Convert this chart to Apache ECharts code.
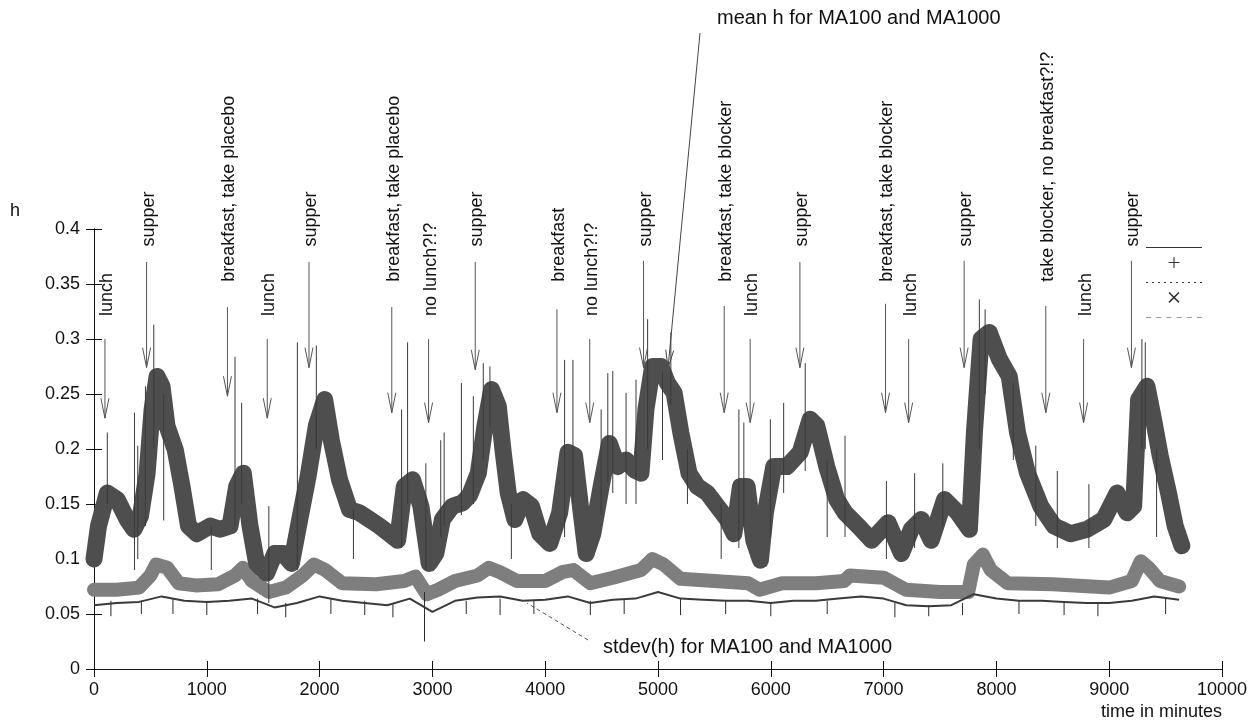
<!DOCTYPE html>
<html><head><meta charset="utf-8">
<script src="https://cdn.jsdelivr.net/npm/echarts@6/dist/echarts.min.js"></script>
<style>html,body{margin:0;padding:0;background:#fff}#c{width:1254px;height:723px}</style>
</head><body><div id="c"></div>
<script>
// ---- data ----
const xTickLabels = ['0','1000','2000','3000','4000','5000','6000','7000','8000','9000','10000'];
const yTickLabels = ['0','0.05','0.1','0.15','0.2','0.25','0.3','0.35','0.4'];

// mean h (smooth dark band)
const meanT = [0,40,118,206,294,353,412,471,515,559,603,647,721,780,838,912,1030,1118,1206,1265,1324,1383,1442,1530,1603,1677,1750,1824,1898,1971,2045,2104,2177,2265,2354,2442,2530,2618,2692,2751,2824,2898,2971,3030,3089,3177,3266,3330,3407,3466,3525,3584,3628,3672,3731,3804,3878,3952,4040,4128,4202,4260,4319,4363,4422,4496,4569,4643,4717,4790,4849,4893,4952,5025,5084,5143,5202,5275,5349,5437,5525,5614,5673,5731,5790,5849,5908,5952,6026,6143,6261,6349,6408,6496,6585,6658,6775,6893,7040,7158,7246,7334,7422,7540,7658,7761,7805,7864,7937,8025,8114,8187,8276,8393,8511,8658,8805,8952,9070,9158,9217,9261,9335,9393,9452,9526,9585,9644];
const meanV = [0.100,0.130,0.160,0.154,0.136,0.127,0.139,0.178,0.236,0.266,0.257,0.221,0.199,0.166,0.130,0.123,0.130,0.127,0.130,0.166,0.178,0.130,0.096,0.087,0.105,0.105,0.096,0.136,0.175,0.221,0.245,0.208,0.172,0.145,0.142,0.136,0.130,0.123,0.117,0.166,0.172,0.148,0.096,0.105,0.136,0.148,0.151,0.158,0.178,0.221,0.254,0.239,0.197,0.160,0.136,0.154,0.148,0.123,0.114,0.142,0.197,0.194,0.142,0.105,0.123,0.166,0.205,0.184,0.190,0.181,0.178,0.236,0.275,0.275,0.260,0.251,0.215,0.178,0.166,0.160,0.148,0.136,0.123,0.166,0.166,0.117,0.099,0.142,0.184,0.184,0.197,0.227,0.221,0.184,0.154,0.142,0.130,0.117,0.133,0.105,0.127,0.136,0.117,0.154,0.142,0.127,0.215,0.300,0.306,0.282,0.266,0.215,0.178,0.148,0.130,0.123,0.127,0.136,0.160,0.142,0.148,0.245,0.257,0.227,0.194,0.160,0.130,0.112];

// mean h noisy spikes: [time, low, high]
const meanSpikes = [[118,0.15,0.215],[359,0.09,0.233],[388,0.10,0.203],[456,0.13,0.257],[530,0.20,0.313],[618,0.135,0.25],[1040,0.09,0.13],[1250,0.13,0.284],[1309,0.15,0.242],[1550,0.06,0.148],[1803,0.09,0.297],[1971,0.20,0.294],[2300,0.10,0.145],[2727,0.11,0.236],[2780,0.15,0.297],[2942,0.09,0.187],[3074,0.12,0.208],[3104,0.13,0.215],[3257,0.14,0.26],[3363,0.15,0.248],[3451,0.19,0.278],[3510,0.22,0.275],[3700,0.10,0.15],[4172,0.12,0.281],[4246,0.15,0.281],[4496,0.14,0.236],[4555,0.17,0.269],[4599,0.16,0.271],[4717,0.15,0.251],[4805,0.15,0.263],[4908,0.20,0.318],[5040,0.19,0.27],[5114,0.24,0.306],[5261,0.15,0.20],[5560,0.10,0.15],[5717,0.11,0.236],[5761,0.13,0.224],[5996,0.12,0.227],[6114,0.16,0.242],[6305,0.18,0.278],[6500,0.12,0.19],[6658,0.12,0.212],[7025,0.10,0.171],[7275,0.11,0.178],[7525,0.13,0.187],[7849,0.20,0.336],[7900,0.25,0.327],[8150,0.19,0.26],[8349,0.13,0.203],[8540,0.11,0.18],[8820,0.11,0.168],[9290,0.20,0.30],[9320,0.20,0.297],[9420,0.12,0.20]];

// stdev(h) (light band)
const stdevT = [0,200,400,500,550,650,750,900,1100,1250,1320,1400,1550,1700,1850,1950,2050,2200,2500,2750,2850,2950,3050,3200,3400,3500,3600,3750,4000,4150,4250,4400,4600,4850,4950,5050,5200,5500,5800,5900,6100,6400,6650,6700,7000,7200,7500,7750,7800,7880,7950,8100,8500,9000,9200,9280,9350,9450,9620];
const stdevV = [0.072,0.072,0.074,0.085,0.095,0.092,0.078,0.076,0.077,0.085,0.092,0.080,0.070,0.074,0.085,0.095,0.090,0.078,0.077,0.080,0.084,0.068,0.072,0.080,0.085,0.092,0.088,0.080,0.080,0.088,0.090,0.078,0.083,0.090,0.100,0.095,0.082,0.080,0.078,0.072,0.078,0.078,0.080,0.085,0.083,0.072,0.070,0.070,0.095,0.104,0.090,0.078,0.077,0.074,0.080,0.098,0.092,0.080,0.075];

// stdev(h) (dark lower line)
const stdevLowT = [0,200,400,600,800,1000,1200,1400,1600,1800,2000,2200,2400,2600,2800,3000,3200,3400,3600,3800,4000,4200,4400,4600,4800,5000,5200,5400,5600,5800,6000,6200,6400,6600,6800,7000,7200,7400,7600,7800,8000,8200,8400,8600,8800,9000,9200,9400,9620];
const stdevLowV = [0.058,0.060,0.061,0.066,0.062,0.061,0.062,0.064,0.056,0.060,0.066,0.062,0.060,0.058,0.064,0.052,0.062,0.065,0.066,0.062,0.063,0.066,0.060,0.063,0.064,0.070,0.064,0.063,0.062,0.062,0.060,0.062,0.062,0.064,0.066,0.064,0.058,0.057,0.058,0.068,0.064,0.062,0.062,0.061,0.060,0.060,0.062,0.066,0.063];

// stdev spikes: [time, low, high]
const stdevSpikes = [[150,0.048,0.062],[420,0.05,0.062],[700,0.05,0.064],[1000,0.049,0.062],[1450,0.05,0.064],[1700,0.047,0.06],[2100,0.05,0.064],[2400,0.049,0.062],[2650,0.047,0.06],[2930,0.025,0.07],[3300,0.05,0.062],[3600,0.049,0.064],[3900,0.05,0.062],[4400,0.049,0.062],[4700,0.05,0.063],[5200,0.049,0.064],[5600,0.05,0.062],[6000,0.048,0.06],[6500,0.05,0.062],[7100,0.047,0.06],[7400,0.048,0.058],[7700,0.049,0.06],[8200,0.05,0.062],[8600,0.049,0.061],[8900,0.048,0.06],[9500,0.05,0.064]];

// events: time, label
const eventT = [97,466,1183,1536,1906,2640,2966,3380,4104,4395,4872,5587,5817,6258,7017,7222,7714,8438,8773,9197];
const eventLabels = ['lunch','supper','breakfast, take placebo','lunch','supper','breakfast, take placebo','no lunch?!?','supper','breakfast','no lunch?!?','supper','breakfast, take blocker','lunch','supper','breakfast, take blocker','lunch','supper','take blocker, no breakfast?!?','lunch','supper'];
const eventLabelY = [0.321,0.384,0.352,0.321,0.384,0.352,0.321,0.384,0.352,0.321,0.384,0.352,0.321,0.384,0.352,0.321,0.384,0.352,0.321,0.384];
const eventArrowTop = [0.30,0.37,0.329,0.30,0.37,0.329,0.30,0.37,0.327,0.30,0.371,0.33,0.30,0.37,0.332,0.30,0.371,0.33,0.30,0.371];
const eventArrowTip = [0.228,0.274,0.248,0.228,0.274,0.233,0.224,0.272,0.233,0.224,0.274,0.233,0.224,0.274,0.233,0.224,0.274,0.233,0.224,0.274];

// ---- chart ----
const FONT = '"Liberation Sans", Arial, sans-serif';
const chart = echarts.init(document.getElementById('c'), null, {renderer:'canvas'});

function renderSpike(params, api) {
  const t = api.value(0);
  const a = api.coord([t, api.value(1)]);
  const b = api.coord([t, api.value(2)]);
  return {type:'line', shape:{x1:a[0], y1:a[1], x2:b[0], y2:b[1]},
    style:{stroke: params.seriesName.indexOf('stdev') >= 0 ? '#2a2a2a' : '#3a3a3a', lineWidth:1}};
}
function renderEvent(params, api) {
  const i = params.dataIndex;
  const t = api.value(0);
  const pL = api.coord([t, api.value(1)]);
  const pTop = api.coord([t, api.value(2)]);
  const pTip = api.coord([t, api.value(3)]);
  const st = {stroke:'#555', lineWidth:1, fill:null};
  return {type:'group', children:[
    {type:'line', shape:{x1:pTop[0], y1:pTop[1], x2:pTip[0], y2:pTip[1]}, style:st},
    {type:'polyline', shape:{points:[[pTip[0]-4, pTip[1]-20],[pTip[0], pTip[1]],[pTip[0]+4, pTip[1]-20]]}, style:st},
    {type:'text', x:pL[0]+2, y:pL[1], rotation:Math.PI/2,
      style:{text:eventLabels[i], x:0, y:0, align:'left', verticalAlign:'middle', fontSize:18, fontFamily:FONT, fill:'#111'}}
  ]};
}

function arrowHead(x1,y1,x2,y2,len,half){
  const dx=x2-x1, dy=y2-y1, L=Math.hypot(dx,dy), ux=dx/L, uy=dy/L;
  const bx=x2-ux*len, by=y2-uy*len;
  return [[bx-uy*half, by+ux*half],[x2,y2],[bx+uy*half, by-ux*half]];
}

const dotted = (function(){let s='path://';for(let x=0;x<58;x+=6){s+='M'+x+',0h2v1h-2z';}return s;})();
const dashedLight = (function(){let s='path://';for(let x=0;x<58;x+=10){s+='M'+x+',0h5v1h-5z';}return s;})();

const axisLabelStyle = {fontSize:18, fontFamily:FONT, color:'#111'};
const option = {
  animation:false,
  backgroundColor:'#fff',
  grid:{left:94, right:32, top:229, bottom:54},
  xAxis:[
    {type:'value', min:0, max:10000, interval:1000, position:'bottom',
      axisLine:{show:true, lineStyle:{color:'#111', width:1}},
      axisTick:{show:true, inside:true, length:8, lineStyle:{color:'#111'}},
      axisLabel:{...axisLabelStyle, margin:12, formatter:(v)=>xTickLabels[Math.round(v/1000)]},
      splitLine:{show:false}},
    {type:'value', min:0, max:10000, interval:1000, position:'top',
      axisLine:{show:true, lineStyle:{color:'#111', width:1}},
      axisTick:{show:true, inside:true, length:8, lineStyle:{color:'#111'}},
      axisLabel:{show:false}, splitLine:{show:false}}
  ],
  yAxis:[
    {type:'value', min:0, max:0.4, interval:0.05, position:'left',
      axisLine:{show:true, lineStyle:{color:'#111', width:1}},
      axisTick:{show:true, inside:true, length:8, lineStyle:{color:'#111'}},
      axisLabel:{...axisLabelStyle, margin:14, formatter:(v)=>yTickLabels[Math.round(v/0.05)]},
      splitLine:{show:false}},
    {type:'value', min:0, max:0.4, interval:0.05, position:'right',
      axisLine:{show:true, lineStyle:{color:'#111', width:1}},
      axisTick:{show:true, inside:true, length:8, lineStyle:{color:'#111'}},
      axisLabel:{show:false}, splitLine:{show:false}}
  ],
  legend:{
    orient:'vertical', left:1141, top:237, itemWidth:56, itemHeight:11, itemGap:9,
    selectedMode:false, formatter:()=>'', textStyle:{fontSize:1},
    data:[
      {name:'mean h, MA100', icon:'path://M0,0H60V1H0Z', itemStyle:{color:'#333'}},
      {name:'mean h, MA1000', icon:'path://M4.5,0h1v10h-1zM0,4.5h10v1h-10z', itemStyle:{color:'#333'}},
      {name:'stdev(h), MA100', icon:dotted, itemStyle:{color:'#333'}},
      {name:'stdev(h), MA1000', icon:'path://M0,1L1,0L10,9L9,10ZM9,0L10,1L1,10L0,9Z', itemStyle:{color:'#333'}},
      {name:'events', icon:dashedLight, itemStyle:{color:'#999'}}
    ]
  },
  series:[
    {name:'stdev(h), MA1000', type:'line', symbol:'none', z:2,
      data: stdevT.map((t,i)=>[t, stdevV[i]]),
      lineStyle:{width:14, color:'#7e7e7e', join:'round', cap:'round'}},
    {name:'stdev(h), MA100', type:'line', symbol:'none', z:3,
      data: stdevLowT.map((t,i)=>[t, stdevLowV[i]]),
      lineStyle:{width:2, color:'#3a3a3a', join:'round'}},
    {name:'stdev spikes', type:'custom', z:3, renderItem:renderSpike,
      encode:{x:0, y:[1,2]}, data: stdevSpikes},
    {name:'mean h, MA1000', type:'line', symbol:'none', z:4,
      data: meanT.map((t,i)=>[t, meanV[i]]),
      lineStyle:{width:17, color:'#4e4e4e', join:'round', cap:'round'}},
    {name:'mean h, MA100', type:'custom', z:5, renderItem:renderSpike,
      encode:{x:0, y:[1,2]}, data: meanSpikes},
    {name:'events', type:'custom', z:6, clip:false, renderItem:renderEvent,
      encode:{x:0, y:[1,2,3]},
      data: eventT.map((t,i)=>[t, eventLabelY[i], eventArrowTop[i], eventArrowTip[i]])}
  ],
  graphic:[
    {type:'text', left:10, top:202, style:{text:'h', fontSize:18, fontFamily:FONT, fill:'#111'}},
    {type:'text', x:1222, y:712, style:{text:'time in minutes', fontSize:18, fontFamily:FONT, fill:'#111', align:'right', verticalAlign:'middle'}},
    {type:'text', x:717, y:18, style:{text:'mean h for MA100 and MA1000', fontSize:20, fontFamily:FONT, fill:'#111', align:'left', verticalAlign:'middle'}},
    {type:'text', x:603, y:647, style:{text:'stdev(h) for MA100 and MA1000', fontSize:20, fontFamily:FONT, fill:'#111', align:'left', verticalAlign:'middle'}},
    {type:'line', shape:{x1:700, y1:33, x2:668, y2:368}, style:{stroke:'#444', lineWidth:1}},
    {type:'polyline', shape:{points:arrowHead(700,33,668,368,18,4)}, style:{stroke:'#444', lineWidth:1, fill:null}},
    {type:'line', shape:{x1:588, y1:640, x2:527, y2:603}, style:{stroke:'#555', lineWidth:1, lineDash:[4,3]}}
  ]
};
chart.setOption(option);
</script>
</body></html>
